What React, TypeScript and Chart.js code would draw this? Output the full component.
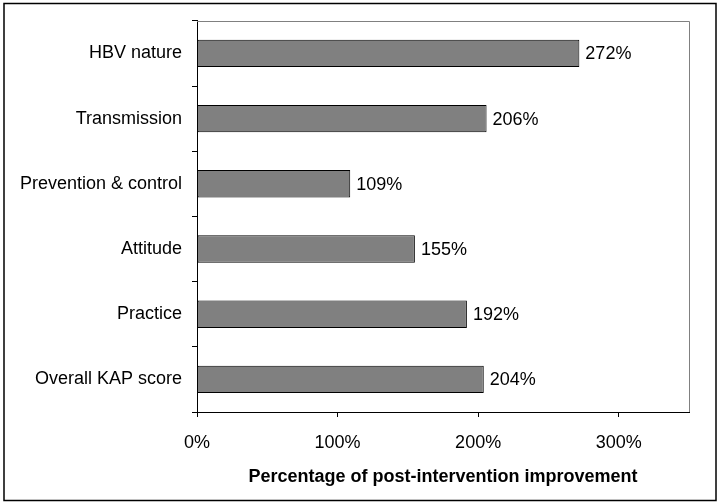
import React, { useEffect, useRef } from "react";
import { Chart, registerables } from "chart.js";

Chart.register(...registerables);

const categories = [
  "HBV nature",
  "Transmission",
  "Prevention & control",
  "Attitude",
  "Practice",
  "Overall KAP score",
];
const improvement = [272, 206, 109, 155, 192, 204];
const xTicks = [0, 100, 200, 300];
const xMax = 350;
const axisTitle = "Percentage of post-intervention improvement";

const FONT = "Arial, 'Liberation Sans', sans-serif";

const framePlugin = {
  id: "framePlugin",
  afterDraw(chart: any) {
    const { ctx, chartArea } = chart;
    ctx.save();
    ctx.strokeStyle = "#808080";
    ctx.lineWidth = 1;
    ctx.beginPath();
    ctx.moveTo(chartArea.left, Math.round(chartArea.top) + 0.5);
    ctx.lineTo(Math.round(chartArea.right) + 0.5, Math.round(chartArea.top) + 0.5);
    ctx.lineTo(Math.round(chartArea.right) + 0.5, chartArea.bottom);
    ctx.stroke();
    ctx.strokeStyle = "#000";
    ctx.lineWidth = 1.5;
    ctx.strokeRect(4, 3.5, 712, 497);
    const meta = chart.getDatasetMeta(0);
    ctx.fillStyle = "#000";
    ctx.font = `18px ${FONT}`;
    ctx.textAlign = "left";
    ctx.textBaseline = "middle";
    meta.data.forEach((bar: any, i: number) => {
      const v = chart.data.datasets[0].data[i];
      ctx.fillText(`${v}%`, bar.x + 6, bar.y + 1);
    });
    ctx.restore();
  },
};

export default function App() {
  const ref = useRef<HTMLCanvasElement | null>(null);

  useEffect(() => {
    document.body.style.margin = "0";
    if (!ref.current) return;
    const chart = new Chart(ref.current, {
      type: "bar",
      data: {
        labels: categories,
        datasets: [
          {
            data: improvement,
            backgroundColor: "#808080",
            borderColor: "#000",
            borderWidth: 1,
            borderSkipped: false,
            categoryPercentage: 1,
            barPercentage: 0.42,
          },
        ],
      },
      options: {
        indexAxis: "y",
        animation: false,
        responsive: true,
        maintainAspectRatio: false,
        layout: { padding: { top: 19, right: 30, left: 0, bottom: 0 } },
        plugins: {
          legend: { display: false },
          tooltip: { enabled: false },
        },
        scales: {
          x: {
            min: 0,
            max: xMax,
            afterFit(scale: any) {
              scale.height = 91;
            },
            afterBuildTicks(scale: any) {
              scale.ticks = xTicks.map((v) => ({ value: v }));
            },
            ticks: {
              color: "#000",
              font: { family: FONT, size: 18 },
              padding: 15,
              callback: (v: any) => `${v}%`,
            },
            grid: {
              drawOnChartArea: false,
              tickLength: 5,
              color: "#000",
            },
            border: { color: "#000", width: 1 },
            title: {
              display: true,
              text: axisTitle,
              color: "#000",
              font: { family: FONT, size: 18, weight: "bold" },
              padding: { top: 0, bottom: 15 },
            },
          },
          y: {
            afterFit(scale: any) {
              scale.width = 197;
            },
            ticks: {
              color: "#000",
              font: { family: FONT, size: 18 },
              padding: 10,
            },
            grid: {
              drawOnChartArea: false,
              tickLength: 5,
              color: "#000",
              offset: true,
            },
            border: { color: "#000", width: 1 },
          },
        },
      },
      plugins: [framePlugin],
    });
    return () => chart.destroy();
  }, []);

  return (
    <div style={{ width: 719, height: 503, position: "relative", background: "#fff" }}>
      <canvas ref={ref} />
    </div>
  );
}
